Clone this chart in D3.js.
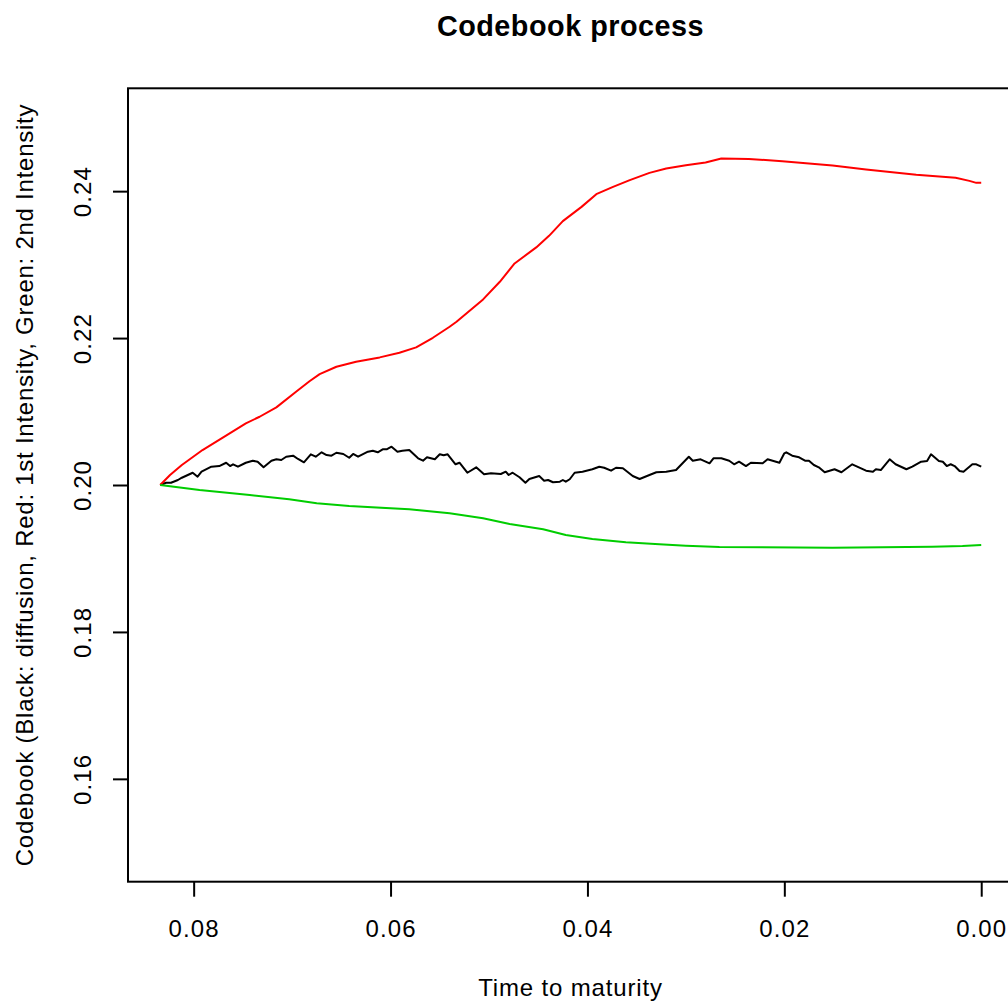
<!DOCTYPE html>
<html>
<head>
<meta charset="utf-8">
<script src="https://cdn.jsdelivr.net/npm/d3@7"></script>
<style>
  body { margin: 0; background: #fff; }
  svg { display: block; font-family: "Liberation Sans", Arial, sans-serif; }
</style>
</head>
<body>
<svg width="1008" height="1003"></svg>
<script>
// time to maturity (x) and codebook values
const diffusionTime = [0.0834, 0.0828, 0.0823, 0.0816, 0.0812, 0.0801, 0.0796, 0.0792, 0.0782, 0.0774,
  0.0767, 0.0763, 0.0760, 0.0755, 0.0747, 0.0740, 0.0735, 0.0729, 0.0721, 0.0716,
  0.0711, 0.0706, 0.0699, 0.0694, 0.0688, 0.0681, 0.0676, 0.0670, 0.0665, 0.0660,
  0.0655, 0.0648, 0.0642, 0.0638, 0.0633, 0.0623, 0.0618, 0.0613, 0.0608, 0.0604,
  0.0599, 0.0593, 0.0588, 0.0581, 0.0572, 0.0567, 0.0563, 0.0555, 0.0550, 0.0546,
  0.0542, 0.0534, 0.0530, 0.0522, 0.0513, 0.0505, 0.0498, 0.0488, 0.0483, 0.0480,
  0.0476, 0.0469, 0.0463, 0.0459, 0.0449, 0.0444, 0.0440, 0.0435, 0.0428, 0.0425,
  0.0422, 0.0418, 0.0413, 0.0405, 0.0395, 0.0388, 0.0383, 0.0376, 0.0371, 0.0364,
  0.0354, 0.0347, 0.0337, 0.0330, 0.0320, 0.0310, 0.0297, 0.0293, 0.0285, 0.0276,
  0.0272, 0.0264, 0.0256, 0.0251, 0.0246, 0.0239, 0.0234, 0.0222, 0.0217, 0.0205,
  0.0200, 0.0198, 0.0192, 0.0185, 0.0179, 0.0175, 0.0170, 0.0165, 0.0159, 0.0149,
  0.0142, 0.0131, 0.0117, 0.0110, 0.0107, 0.0102, 0.0093, 0.0087, 0.0076, 0.0070,
  0.0061, 0.0055, 0.0051, 0.0043, 0.0039, 0.0035, 0.0031, 0.0027, 0.0022, 0.0018,
  0.0009, 0.0005, 0.0000];
const diffusionValue = [0.20000, 0.20031, 0.20031, 0.20068, 0.20099, 0.20167, 0.20113, 0.20181, 0.20249, 0.20258,
  0.20303, 0.20258, 0.20282, 0.20249, 0.20303, 0.20331, 0.20317, 0.20241, 0.20331, 0.20350,
  0.20340, 0.20385, 0.20399, 0.20354, 0.20309, 0.20418, 0.20385, 0.20445, 0.20408, 0.20399,
  0.20439, 0.20422, 0.20371, 0.20422, 0.20385, 0.20453, 0.20467, 0.20445, 0.20486, 0.20486,
  0.20521, 0.20453, 0.20467, 0.20476, 0.20363, 0.20331, 0.20377, 0.20350, 0.20418, 0.20404,
  0.20418, 0.20282, 0.20303, 0.20167, 0.20241, 0.20146, 0.20159, 0.20150, 0.20181, 0.20136,
  0.20167, 0.20105, 0.20031, 0.20082, 0.20122, 0.20059, 0.20068, 0.20037, 0.20045, 0.20068,
  0.20045, 0.20078, 0.20167, 0.20181, 0.20214, 0.20249, 0.20235, 0.20195, 0.20235, 0.20227,
  0.20122, 0.20082, 0.20136, 0.20173, 0.20181, 0.20204, 0.20385, 0.20331, 0.20350, 0.20295,
  0.20363, 0.20363, 0.20331, 0.20282, 0.20317, 0.20258, 0.20303, 0.20295, 0.20350, 0.20303,
  0.20431, 0.20445, 0.20399, 0.20377, 0.20331, 0.20331, 0.20272, 0.20241, 0.20173, 0.20214,
  0.20173, 0.20282, 0.20195, 0.20181, 0.20214, 0.20204, 0.20350, 0.20282, 0.20214, 0.20249,
  0.20317, 0.20327, 0.20418, 0.20327, 0.20317, 0.20258, 0.20282, 0.20258, 0.20190, 0.20181,
  0.20282, 0.20282, 0.20249];

const firstTime = [0.0834, 0.0824, 0.0812, 0.0791, 0.0770, 0.0747, 0.0733, 0.0716, 0.0696, 0.0682,
  0.0672, 0.0655, 0.0635, 0.0611, 0.0591, 0.0574, 0.0557, 0.0540, 0.0533, 0.0506,
  0.0489, 0.0474, 0.0452, 0.0439, 0.0425, 0.0406, 0.0391, 0.0374, 0.0357, 0.0337,
  0.0320, 0.0300, 0.0280, 0.0264, 0.0236, 0.0202, 0.0151, 0.0117, 0.0066, 0.0026,
  0.0012, 0.0005, 0.0000];
const firstValue = [0.20000, 0.20136, 0.20272, 0.20476, 0.20649, 0.20839, 0.20929, 0.21057, 0.21269, 0.21415,
  0.21510, 0.21610, 0.21677, 0.21737, 0.21800, 0.21873, 0.22004, 0.22154, 0.22222, 0.22526,
  0.22766, 0.23016, 0.23234, 0.23392, 0.23592, 0.23786, 0.23959, 0.24058, 0.24150, 0.24249,
  0.24309, 0.24354, 0.24390, 0.24445, 0.24439, 0.24408, 0.24350, 0.24295, 0.24222, 0.24181,
  0.24140, 0.24113, 0.24113];

const secondTime = [0.0834, 0.0794, 0.0743, 0.0703, 0.0675, 0.0642, 0.0581, 0.0540, 0.0506, 0.0479,
  0.0445, 0.0422, 0.0395, 0.0361, 0.0327, 0.0300, 0.0266, 0.0151, 0.0050, 0.0019,
  0.0000];
const secondValue = [0.20000, 0.19932, 0.19864, 0.19805, 0.19751, 0.19714, 0.19669, 0.19615, 0.19547, 0.19469,
  0.19397, 0.19320, 0.19265, 0.19220, 0.19193, 0.19174, 0.19156, 0.19147, 0.19161, 0.19170,
  0.19184];

const xTicks = [0.08, 0.06, 0.04, 0.02, 0.00];
const yTicks = [0.16, 0.18, 0.20, 0.22, 0.24];

const svg = d3.select("svg");
const plotLeft = 128, plotRight = 1014, plotTop = 88.3, plotBottom = 881.7;

// R-style 4% padding around the data range, x reversed
const x = d3.scaleLinear().domain([0.08667, -0.00333]).range([plotLeft, plotRight]);
const y = d3.scaleLinear().domain([0.146, 0.254]).range([plotBottom, plotTop]);

function series(ts, vs) {
    return ts.map((t, i) => ({t: t, v: vs[i]}));
}
const line = d3.line().x(d => x(d.t)).y(d => y(d.v));

const seriesList = [
    {data: series(diffusionTime, diffusionValue), color: "#000000"},
    {data: series(firstTime, firstValue), color: "#ff0000"},
    {data: series(secondTime, secondValue), color: "#00cd00"}
];

svg.selectAll(".series")
    .data(seriesList)
    .enter()
    .append("path")
    .attr("class", "series")
    .attr("d", d => line(d.data))
    .attr("fill", "none")
    .attr("stroke", d => d.color)
    .attr("stroke-width", 2)
    .attr("stroke-linejoin", "round");

// plot box
svg.append("rect")
    .attr("x", plotLeft).attr("y", plotTop)
    .attr("width", plotRight - plotLeft).attr("height", plotBottom - plotTop)
    .attr("fill", "none").attr("stroke", "#000").attr("stroke-width", 2);

// x axis
const xAxis = svg.append("g")
    .attr("transform", `translate(0, ${plotBottom})`)
    .call(d3.axisBottom(x).tickValues(xTicks).tickFormat(d3.format(".2f")).tickSize(15));
xAxis.select(".domain").remove();
xAxis.selectAll("line").attr("stroke-width", 2);
xAxis.selectAll("text")
    .attr("y", 55).attr("dy", 0)
    .attr("font-size", "24px").attr("font-family", null).attr("fill", "#000")
    .attr("letter-spacing", "1.1px");

// y axis
const yAxis = svg.append("g")
    .attr("transform", `translate(${plotLeft}, 0)`)
    .call(d3.axisLeft(y).tickValues(yTicks).tickFormat(d3.format(".2f")).tickSize(15));
yAxis.select(".domain").remove();
yAxis.selectAll("line").attr("stroke-width", 2);
yAxis.selectAll("text")
    .attr("transform", "rotate(-90)")
    .attr("x", 0).attr("y", -37.5).attr("dy", 0)
    .attr("text-anchor", "middle")
    .attr("font-size", "24px").attr("font-family", null).attr("fill", "#000")
    .attr("letter-spacing", "1.1px");

// titles
svg.append("text")
    .attr("x", 570.5).attr("y", 36)
    .attr("text-anchor", "middle")
    .attr("font-size", "28.8px").attr("font-weight", "bold")
    .attr("letter-spacing", "0.5px")
    .text("Codebook process");

svg.append("text")
    .attr("x", 570.5).attr("y", 996)
    .attr("text-anchor", "middle")
    .attr("font-size", "24px")
    .attr("letter-spacing", "0.85px")
    .text("Time to maturity");

svg.append("text")
    .attr("transform", `translate(33, ${(plotTop + plotBottom) / 2}) rotate(-90)`)
    .attr("text-anchor", "middle")
    .attr("font-size", "24px")
    .attr("letter-spacing", "0.75px")
    .text("Codebook (Black: diffusion, Red: 1st Intensity, Green: 2nd Intensity");
</script>
</body>
</html>
